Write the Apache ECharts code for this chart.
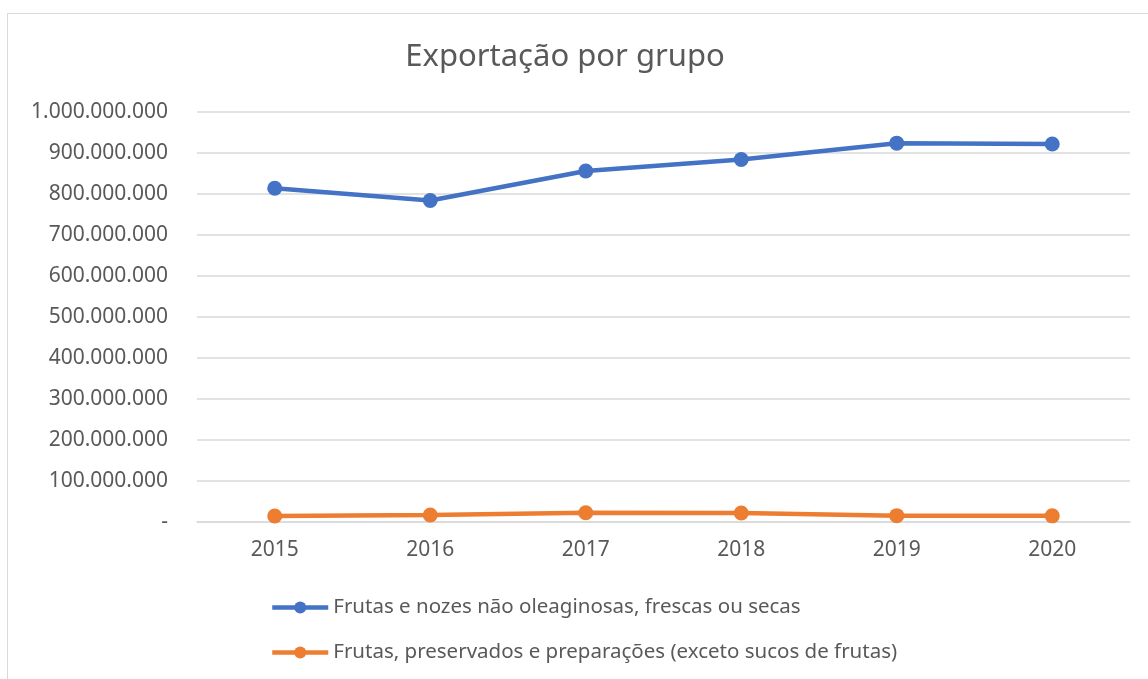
<!DOCTYPE html>
<html>
<head>
<meta charset="utf-8">
<script src="https://cdn.jsdelivr.net/npm/echarts@6/dist/echarts.min.js"></script>
<style>
  html, body { margin: 0; padding: 0; background: #fff; overflow: hidden; }
  #frame { position: absolute; left: 7px; top: 13px; width: 1200px; height: 720px; border: 1px solid #d9d9d9; }
  #main { position: absolute; left: 0; top: 0; width: 1148px; height: 679px; }
</style>
</head>
<body>
<div id="frame"></div>
<div id="main"></div>
<script>
var years = ['2015', '2016', '2017', '2018', '2019', '2020'];
var frutasNozes = [814000000, 784000000, 856000000, 884000000, 924000000, 922000000];
var frutasPreservados = [14500000, 17000000, 22500000, 22000000, 15500000, 15000000];
var serieNames = [
  'Frutas e nozes não oleaginosas, frescas ou secas',
  'Frutas, preservados e preparações (exceto sucos de frutas)'
];

var chartDom = document.getElementById('main');
var myChart = echarts.init(chartDom);
var fonte = "'Noto Sans', sans-serif";

function formatNum(v) {
  if (v === 0) return '-';
  return String(v).replace(/\B(?=(\d{3})+(?!\d))/g, '.');
}

var option = {
  animation: false,
  color: ['#4472C4', '#ED7D31'],
  title: {
    text: 'Exportação por grupo',
    left: 560,
    textAlign: 'center',
    top: 37,
    textStyle: { fontFamily: fonte, fontSize: 31, fontWeight: 'normal', color: '#595959' }
  },
  grid: {
    left: 197,
    right: 18,
    top: 112,
    bottom: 157
  },
  legend: {
    orient: 'vertical',
    left: 265,
    top: 592,
    itemGap: 24,
    itemWidth: 56,
    itemHeight: 15,
    lineStyle: { width: 4.5 },
    textStyle: { fontFamily: fonte, fontSize: 20.5, color: '#595959' },
    data: serieNames
  },
  xAxis: {
    type: 'category',
    data: years,
    boundaryGap: true,
    axisLine: { lineStyle: { color: '#d9d9d9', width: 1.5 } },
    axisTick: { show: false },
    axisLabel: { fontFamily: fonte, fontSize: 21, color: '#595959', margin: 18 }
  },
  yAxis: {
    type: 'value',
    min: 0,
    max: 1000000000,
    interval: 100000000,
    axisLine: { show: false },
    axisTick: { show: false },
    splitLine: { lineStyle: { color: '#d9d9d9', width: 1.5 } },
    axisLabel: {
      fontFamily: fonte, fontSize: 21, color: '#595959', margin: 29,
      formatter: formatNum
    }
  },
  series: [
    {
      name: serieNames[0],
      type: 'line',
      data: frutasNozes,
      symbol: 'circle',
      symbolSize: 15,
      lineStyle: { width: 4.5 }
    },
    {
      name: serieNames[1],
      type: 'line',
      data: frutasPreservados,
      symbol: 'circle',
      symbolSize: 15,
      lineStyle: { width: 4.5 }
    }
  ]
};

myChart.setOption(option);
</script>
</body>
</html>
